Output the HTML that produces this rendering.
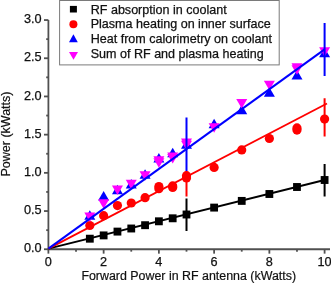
<!DOCTYPE html><html><head><meta charset="utf-8"><style>html,body{margin:0;padding:0;background:#fff;overflow:hidden}svg{display:block;will-change:transform}text{font-family:"Liberation Sans",sans-serif}</style></head><body>
<svg width="331" height="283" viewBox="0 0 331 283">
<rect width="331" height="283" fill="#fff"/>
<rect x="59.6" y="0.5" width="219.6" height="64.4" fill="none" stroke="#7a7a7a" stroke-width="1"/>
<g stroke="#505050" stroke-width="1.8" fill="none">
<path d="M48.4 20.05V249.25"/><path d="M47.5 249.25H330"/>
<path d="M44.00 249.25H48.4"/>
<path d="M46.20 230.15H48.4"/>
<path d="M44.00 211.05H48.4"/>
<path d="M46.20 191.95H48.4"/>
<path d="M44.00 172.85H48.4"/>
<path d="M46.20 153.75H48.4"/>
<path d="M44.00 134.65H48.4"/>
<path d="M46.20 115.55H48.4"/>
<path d="M44.00 96.45H48.4"/>
<path d="M46.20 77.35H48.4"/>
<path d="M44.00 58.25H48.4"/>
<path d="M46.20 39.15H48.4"/>
<path d="M44.00 20.05H48.4"/>
<path d="M48.40 249.25V253.65"/>
<path d="M76.02 249.25V251.65"/>
<path d="M103.64 249.25V253.65"/>
<path d="M131.26 249.25V251.65"/>
<path d="M158.88 249.25V253.65"/>
<path d="M186.50 249.25V251.65"/>
<path d="M214.12 249.25V253.65"/>
<path d="M241.74 249.25V251.65"/>
<path d="M269.36 249.25V253.65"/>
<path d="M296.98 249.25V251.65"/>
<path d="M324.60 249.25V253.65"/>
</g>
<g fill="#111" stroke="#111" stroke-width="0.25" font-size="12.7">
<text x="41.6" y="252.35" text-anchor="end">0.0</text>
<text x="41.6" y="214.15" text-anchor="end">0.5</text>
<text x="41.6" y="175.95" text-anchor="end">1.0</text>
<text x="41.6" y="137.75" text-anchor="end">1.5</text>
<text x="41.6" y="99.55" text-anchor="end">2.0</text>
<text x="41.6" y="61.35" text-anchor="end">2.5</text>
<text x="41.6" y="23.15" text-anchor="end">3.0</text>
<text x="48.40" y="266.1" text-anchor="middle">0</text>
<text x="103.64" y="266.1" text-anchor="middle">2</text>
<text x="158.88" y="266.1" text-anchor="middle">4</text>
<text x="214.12" y="266.1" text-anchor="middle">6</text>
<text x="269.36" y="266.1" text-anchor="middle">8</text>
<text x="324.60" y="266.1" text-anchor="middle">10</text>
<text x="81.4" y="279.8" font-size="12.42" stroke="#111" stroke-width="0.2">Forward Power in RF antenna (kWatts)</text>
<text transform="translate(9.6 176.5) rotate(-90)" font-size="12.5" stroke="#111" stroke-width="0.2">Power (kWatts)</text>
</g>
<g font-size="12.55" fill="#111" stroke="#111" stroke-width="0.25">
<text x="90.7" y="14">RF absorption in coolant</text>
<text x="90.7" y="28">Plasma heating on inner surface</text>
<text x="90.7" y="43">Heat from calorimetry on coolant</text>
<text x="90.7" y="58">Sum of RF and plasma heating</text>
</g>
<rect x="69.9" y="5.9" width="7" height="6.6" fill="#000"/>
<circle cx="73.4" cy="24.2" r="4" fill="#f00"/>
<path d="M69.00 42.37L73.40 34.37L77.80 42.37Z" fill="#00f"/>
<path d="M69.00 52.00L73.50 59.80L78.00 52.00Z" fill="#f0f"/>
<g fill="#000">
<rect x="85.93" y="234.75" width="7.8" height="7.9"/>
<rect x="99.74" y="231.45" width="7.8" height="7.9"/>
<rect x="113.55" y="227.65" width="7.8" height="7.9"/>
<rect x="127.36" y="224.55" width="7.8" height="7.9"/>
<rect x="141.17" y="221.25" width="7.8" height="7.9"/>
<rect x="154.98" y="217.35" width="7.8" height="7.9"/>
<rect x="168.79" y="214.35" width="7.8" height="7.9"/>
<rect x="182.60" y="210.55" width="7.8" height="7.9"/>
<rect x="210.22" y="203.65" width="7.8" height="7.9"/>
<rect x="237.84" y="196.95" width="7.8" height="7.9"/>
<rect x="265.46" y="190.05" width="7.8" height="7.9"/>
<rect x="293.08" y="183.05" width="7.8" height="7.9"/>
<rect x="320.70" y="176.05" width="7.8" height="7.9"/>
</g>
<path d="M48.4 248.6L324.60 180" stroke="#000" stroke-width="2" fill="none"/>
<path d="M186.50 198.5V231M324.60 164V196.5" stroke="#000" stroke-width="2" fill="none"/>
<g fill="#f00">
<circle cx="89.83" cy="225.50" r="4.6"/>
<circle cx="103.64" cy="215.70" r="4.6"/>
<circle cx="117.45" cy="205.60" r="4.6"/>
<circle cx="131.26" cy="203.00" r="4.6"/>
<circle cx="145.07" cy="197.70" r="4.6"/>
<circle cx="158.88" cy="186.60" r="4.6"/>
<circle cx="158.88" cy="188.70" r="4.6"/>
<circle cx="172.69" cy="185.90" r="4.6"/>
<circle cx="172.69" cy="187.50" r="4.6"/>
<circle cx="186.50" cy="175.70" r="4.6"/>
<circle cx="186.50" cy="177.90" r="4.6"/>
<circle cx="214.12" cy="167.40" r="4.6"/>
<circle cx="241.74" cy="149.90" r="4.6"/>
<circle cx="269.36" cy="138.50" r="4.6"/>
<circle cx="296.98" cy="127.90" r="4.6"/>
<circle cx="296.98" cy="130.10" r="4.6"/>
<circle cx="324.60" cy="119.10" r="4.6"/>
</g>
<path d="M48.4 248.6L327 103.45" stroke="#f00" stroke-width="1.85" fill="none"/>
<path d="M186.50 171V196.4M324.60 98.3V136.5" stroke="#f00" stroke-width="2" fill="none"/>
<path d="M84.33 219.77L89.83 210.27L95.33 219.77Z" fill="#00f"/>
<path d="M98.14 200.57L103.64 191.07L109.14 200.57Z" fill="#00f"/>
<path d="M111.95 194.27L117.45 184.77L122.95 194.27Z" fill="#00f"/>
<path d="M125.76 188.57L131.26 179.07L136.76 188.57Z" fill="#00f"/>
<path d="M139.57 178.87L145.07 169.37L150.57 178.87Z" fill="#00f"/>
<path d="M153.38 162.47L158.88 152.97L164.38 162.47Z" fill="#00f"/>
<path d="M167.19 157.17L172.69 147.67L178.19 157.17Z" fill="#00f"/>
<path d="M181.00 148.77L186.50 139.27L192.00 148.77Z" fill="#00f"/>
<path d="M208.62 128.27L214.12 118.77L219.62 128.27Z" fill="#00f"/>
<path d="M236.24 114.17L241.74 104.67L247.24 114.17Z" fill="#00f"/>
<path d="M263.86 96.87L269.36 87.37L274.86 96.87Z" fill="#00f"/>
<path d="M291.48 79.57L296.98 70.07L302.48 79.57Z" fill="#00f"/>
<path d="M319.10 57.37L324.60 47.87L330.10 57.37Z" fill="#00f"/>
<path d="M84.33 212.43L89.83 221.93L95.33 212.43Z" fill="#f0f"/>
<path d="M98.14 199.33L103.64 208.83L109.14 199.33Z" fill="#f0f"/>
<path d="M111.95 185.43L117.45 194.93L122.95 185.43Z" fill="#f0f"/>
<path d="M125.76 179.73L131.26 189.23L136.76 179.73Z" fill="#f0f"/>
<path d="M139.57 171.13L145.07 180.63L150.57 171.13Z" fill="#f0f"/>
<path d="M153.38 156.13L158.88 165.63L164.38 156.13Z" fill="#f0f"/>
<path d="M153.38 158.23L158.88 167.73L164.38 158.23Z" fill="#f0f"/>
<path d="M167.19 152.43L172.69 161.93L178.19 152.43Z" fill="#f0f"/>
<path d="M167.19 154.03L172.69 163.53L178.19 154.03Z" fill="#f0f"/>
<path d="M181.00 138.43L186.50 147.93L192.00 138.43Z" fill="#f0f"/>
<path d="M181.00 140.63L186.50 150.13L192.00 140.63Z" fill="#f0f"/>
<path d="M208.62 123.23L214.12 132.73L219.62 123.23Z" fill="#f0f"/>
<path d="M236.24 99.03L241.74 108.53L247.24 99.03Z" fill="#f0f"/>
<path d="M263.86 80.73L269.36 90.23L274.86 80.73Z" fill="#f0f"/>
<path d="M291.48 63.13L296.98 72.63L302.48 63.13Z" fill="#f0f"/>
<path d="M291.48 65.33L296.98 74.83L302.48 65.33Z" fill="#f0f"/>
<path d="M319.10 47.33L324.60 56.83L330.10 47.33Z" fill="#f0f"/>
<path d="M48.4 248.6L324.60 49.4" stroke="#00f" stroke-width="2" fill="none"/>
<path d="M186.50 117.6V171M324.60 23V76" stroke="#00f" stroke-width="2" fill="none"/>
</svg></body></html>
